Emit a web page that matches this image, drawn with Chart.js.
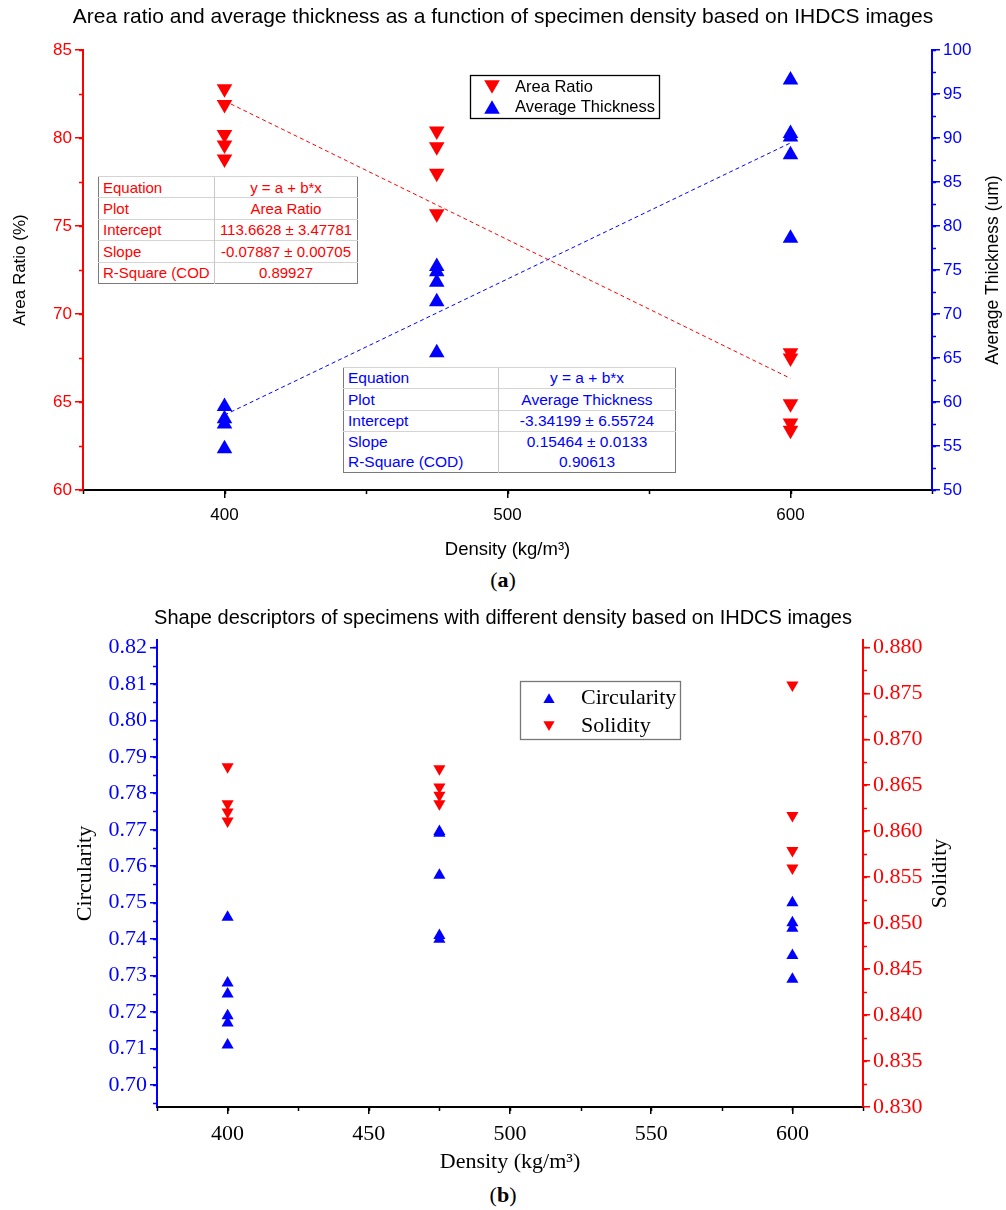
<!DOCTYPE html>
<html>
<head>
<meta charset="utf-8">
<script src="https://cdn.jsdelivr.net/npm/chart.js@4.4.1/dist/chart.umd.min.js"></script>
<style>
  body { margin: 0; background: #fff; width: 1006px; height: 1210px; position: relative; overflow: hidden; }
  canvas { position: absolute; left: 0; }
  #chartA { top: 0; }
  #chartB { top: 595px; }
  .tag { position: absolute; left: 0; width: 1006px; text-align: center; font: 22px "Liberation Serif"; line-height: 26px; }
  .fit { position: absolute; border-collapse: collapse; font-family: "Liberation Sans"; border: 1.5px solid #7a7a7a; background: #fff; table-layout: fixed; }
  .fit td { border-top: 1px solid #d4d4d4; padding: 0 4px; white-space: nowrap; overflow: hidden; line-height: 1; }
  .fit td + td { text-align: center; border-left: 1px solid #c8c8c8; }
  .fit tr.nl td { border-top: none; }
  #fitA { left: 98px; top: 176px; width: 260px; height: 108px; color: #f00; font-size: 15px; }
  #fitB { left: 343px; top: 367px; width: 333px; height: 106px; color: #00f; font-size: 15.5px; }
</style>
</head>
<body>
<canvas id="chartA" width="1006" height="565"></canvas>
<canvas id="chartB" width="1006" height="585"></canvas>

<div class="tag" style="top:567px">(<b>a</b>)</div>
<div class="tag" style="top:1182px">(<b>b</b>)</div>

<table class="fit" id="fitA">
  <colgroup><col style="width:116px"><col></colgroup>
  <tr><td>Equation</td><td>y = a + b*x</td></tr>
  <tr><td>Plot</td><td>Area Ratio</td></tr>
  <tr><td>Intercept</td><td>113.6628 ± 3.47781</td></tr>
  <tr><td>Slope</td><td>-0.07887 ± 0.00705</td></tr>
  <tr><td>R-Square (COD</td><td>0.89927</td></tr>
</table>

<table class="fit" id="fitB">
  <colgroup><col style="width:155px"><col></colgroup>
  <tr><td>Equation</td><td>y = a + b*x</td></tr>
  <tr><td>Plot</td><td>Average Thickness</td></tr>
  <tr><td>Intercept</td><td>-3.34199 ± 6.55724</td></tr>
  <tr><td>Slope</td><td>0.15464 ± 0.0133</td></tr>
  <tr class="nl"><td>R-Square (COD)</td><td>0.90613</td></tr>
</table>

<script>
// ---- panel (a) data ----
const areaX = [400, 400, 400, 400, 400, 475, 475, 475, 475, 600, 600, 600, 600, 600];
const areaRatio = [82.8, 81.9, 80.2, 79.6, 78.8, 80.4, 79.5, 78.0, 75.7, 67.8, 67.5, 64.9, 63.8, 63.4];
const thickX = [400, 400, 400, 400, 475, 475, 475, 475, 475, 600, 600, 600, 600, 600];
const thickness = [59.5, 58.1, 57.5, 54.7, 75.4, 74.8, 73.6, 71.4, 65.6, 96.6, 90.5, 90.1, 88.1, 78.6];
// linear fit end points
const fitX = [400, 600];
const areaFit = [82.11, 66.34];
const thickFit = [58.52, 89.44];
const xTicksA = [400, 500, 600];
const areaTicks = [60, 65, 70, 75, 80, 85];
const thickTicks = [50, 55, 60, 65, 70, 75, 80, 85, 90, 95, 100];

// ---- panel (b) data ----
const circX = [400, 400, 400, 400, 400, 400, 475, 475, 475, 475, 475, 600, 600, 600, 600, 600];
const circularity = [0.746, 0.728, 0.725, 0.719, 0.717, 0.711, 0.7695, 0.769, 0.7575, 0.741, 0.740, 0.750, 0.7445, 0.743, 0.7355, 0.729];
const solX = [400, 400, 400, 400, 475, 475, 475, 475, 600, 600, 600, 600];
const solidity = [0.8670, 0.8630, 0.8621, 0.8611, 0.8668, 0.8648, 0.8639, 0.8630, 0.8759, 0.8617, 0.8579, 0.8560];
const xTicksB = [400, 450, 500, 550, 600];
const circTicks = [0.70, 0.71, 0.72, 0.73, 0.74, 0.75, 0.76, 0.77, 0.78, 0.79, 0.80, 0.81, 0.82];
const solTicks = [0.830, 0.835, 0.840, 0.845, 0.850, 0.855, 0.860, 0.865, 0.870, 0.875, 0.880];

const RED = '#ff0000';
const BLUE = '#0000ff';
const SANS = '"Liberation Sans", Arial, sans-serif';
const SERIF = '"Liberation Serif", "Times New Roman", serif';

const pts = (xs, ys) => xs.map((x, i) => ({ x: x, y: ys[i] }));
const fixTicks = arr => s => { s.ticks = arr.map(v => ({ value: v })); };

// short ticks between the labelled ones
const minorTicks = {
  id: 'minorTicks',
  afterDraw(chart, args, opts) {
    const ctx = chart.ctx;
    (opts.list || []).forEach(m => {
      const s = chart.scales[m.axis];
      ctx.save();
      ctx.strokeStyle = m.color;
      ctx.lineWidth = 1.5;
      const n = Math.round((s.max - m.from) / m.step);
      for (let i = 0; i <= n; i++) {
        const v = m.from + i * m.step;
        if (v < s.min - 1e-9 || v > s.max + 1e-9) continue;
        const p = Math.round(s.getPixelForValue(v)) + 0.5;
        ctx.beginPath();
        if (s.isHorizontal()) { ctx.moveTo(p, s.top); ctx.lineTo(p, s.top + m.len); }
        else if (s.position === 'left') { ctx.moveTo(s.right, p); ctx.lineTo(s.right - m.len, p); }
        else { ctx.moveTo(s.left, p); ctx.lineTo(s.left + m.len, p); }
        ctx.stroke();
      }
      ctx.restore();
    });
  }
};

// right axis title, read bottom to top
const sideTitle = {
  id: 'sideTitle',
  afterDraw(chart, args, o) {
    if (!o.text) return;
    const ctx = chart.ctx, a = chart.chartArea;
    ctx.save();
    ctx.translate(o.x, (a.top + a.bottom) / 2);
    ctx.rotate(-Math.PI / 2);
    ctx.font = o.font;
    ctx.fillStyle = '#000';
    ctx.textAlign = 'center';
    ctx.textBaseline = 'middle';
    ctx.fillText(o.text, 0, 0);
    ctx.restore();
  }
};

// framed legend inside the plot
const boxLegend = {
  id: 'boxLegend',
  afterDraw(chart, args, o) {
    if (!o.items) return;
    const ctx = chart.ctx;
    ctx.save();
    ctx.strokeStyle = o.border;
    ctx.lineWidth = 1.3;
    ctx.strokeRect(o.x + 0.5, o.y + 0.5, o.w, o.h);
    ctx.font = o.font;
    ctx.textBaseline = 'middle';
    o.items.forEach((idx, i) => {
      const ds = chart.data.datasets[idx];
      const cy = o.y + o.rowTop + i * o.rowH;
      ctx.fillStyle = ds.backgroundColor;
      ctx.strokeStyle = ds.backgroundColor;
      Chart.helpers.drawPoint(ctx, { pointStyle: 'triangle', radius: o.r, rotation: ds.pointRotation || 0, borderWidth: 0 }, o.x + o.markX, cy + (ds.pointRotation ? -o.r / 4 : o.r / 4));
      ctx.fillStyle = '#000';
      ctx.fillText(ds.label, o.x + o.textX, cy);
    });
    ctx.restore();
  }
};

function tickGrid(color) {
  return { display: true, drawOnChartArea: false, drawTicks: true, tickLength: 8, color: color, lineWidth: 1.5 };
}

// ---------------- panel (a) ----------------
new Chart(document.getElementById('chartA'), {
  type: 'scatter',
  data: {
    datasets: [
      { label: 'Area Ratio', data: pts(areaX, areaRatio), yAxisID: 'yL', pointStyle: 'triangle', pointRotation: 180,
        pointRadius: 9, backgroundColor: RED, borderColor: RED, borderWidth: 0 },
      { label: 'Average Thickness', data: pts(thickX, thickness), yAxisID: 'yR', pointStyle: 'triangle',
        pointRadius: 9, backgroundColor: BLUE, borderColor: BLUE, borderWidth: 0 },
      { type: 'line', label: 'Area fit', data: pts(fitX, areaFit), yAxisID: 'yL', borderColor: RED,
        borderWidth: 1, borderDash: [4, 3], pointRadius: 0, fill: false },
      { type: 'line', label: 'Thickness fit', data: pts(fitX, thickFit), yAxisID: 'yR', borderColor: BLUE,
        borderWidth: 1, borderDash: [4, 3], pointRadius: 0, fill: false }
    ]
  },
  options: {
    responsive: false,
    animation: false,
    layout: { padding: 0 },
    scales: {
      x: {
        type: 'linear', min: 350, max: 650,
        afterBuildTicks: fixTicks(xTicksA),
        afterFit: s => { s.height = 75; },
        grid: tickGrid('#000'),
        border: { color: '#000', width: 2 },
        ticks: { color: '#000', font: { family: SANS, size: 17 }, padding: 7 },
        title: { display: true, text: 'Density (kg/m³)', color: '#000', font: { family: SANS, size: 18.5 }, padding: { top: 0, bottom: 4 } }
      },
      yL: {
        position: 'left', min: 60, max: 85,
        afterBuildTicks: fixTicks(areaTicks),
        afterFit: s => { s.width = 83; },
        grid: tickGrid(RED),
        border: { color: RED, width: 2 },
        ticks: { color: RED, font: { family: SANS, size: 17 }, padding: 3 },
        title: { display: true, text: 'Area Ratio (%)', color: '#000', font: { family: SANS, size: 17 }, padding: { top: 10, bottom: 0 } }
      },
      yR: {
        position: 'right', min: 50, max: 100,
        afterBuildTicks: fixTicks(thickTicks),
        afterFit: s => { s.width = 74; },
        grid: tickGrid(BLUE),
        border: { color: BLUE, width: 2 },
        ticks: { color: BLUE, font: { family: SANS, size: 17 }, padding: 3 }
      }
    },
    plugins: {
      legend: { display: false },
      tooltip: { enabled: false },
      title: {
        display: true, color: '#000',
        text: 'Area ratio and average thickness as a function of specimen density based on IHDCS images',
        font: { family: SANS, size: 21, weight: 'normal' },
        padding: { top: 5, bottom: 19.8 }
      },
      sideTitle: { text: 'Average Thickness (um)', x: 993, font: '17.5px ' + SANS },
      minorTicks: { list: [
        { axis: 'x', from: 350, step: 50, len: 4, color: '#000' },
        { axis: 'yL', from: 60, step: 2.5, len: 4, color: RED },
        { axis: 'yR', from: 50, step: 2.5, len: 4, color: BLUE }
      ] },
      boxLegend: { x: 470, y: 75, w: 189, h: 43, rowTop: 12, rowH: 20, r: 9, markX: 22, textX: 45,
        border: '#000', font: '16.5px ' + SANS, items: [0, 1] }
    }
  },
  plugins: [minorTicks, sideTitle, boxLegend]
});

// ---------------- panel (b) ----------------
new Chart(document.getElementById('chartB'), {
  type: 'scatter',
  data: {
    datasets: [
      { label: 'Circularity', data: pts(circX, circularity), yAxisID: 'yL', pointStyle: 'triangle',
        pointRadius: 7, backgroundColor: BLUE, borderColor: BLUE, borderWidth: 0 },
      { label: 'Solidity', data: pts(solX, solidity), yAxisID: 'yR', pointStyle: 'triangle', pointRotation: 180,
        pointRadius: 7, backgroundColor: RED, borderColor: RED, borderWidth: 0 }
    ]
  },
  options: {
    responsive: false,
    animation: false,
    layout: { padding: 0 },
    scales: {
      x: {
        type: 'linear', min: 375, max: 625,
        afterBuildTicks: fixTicks(xTicksB),
        afterFit: s => { s.height = 73; },
        grid: Object.assign(tickGrid('#000'), { tickLength: 7 }),
        border: { color: '#000', width: 2 },
        ticks: { color: '#000', font: { family: SERIF, size: 22 }, padding: 7 },
        title: { display: true, text: 'Density (kg/m³)', color: '#000', font: { family: SERIF, size: 22 }, padding: { top: 0, bottom: 5 } }
      },
      yL: {
        position: 'left', min: 0.694, max: 0.822,
        afterBuildTicks: fixTicks(circTicks),
        afterFit: s => { s.width = 157; },
        grid: Object.assign(tickGrid(BLUE), { tickLength: 7 }),
        border: { color: BLUE, width: 2 },
        ticks: { color: BLUE, font: { family: SERIF, size: 22 }, padding: 3, callback: v => v.toFixed(2) },
        title: { display: true, text: 'Circularity', color: '#000', font: { family: SERIF, size: 22 }, padding: { top: 72, bottom: 0 } }
      },
      yR: {
        position: 'right', min: 0.83, max: 0.8808,
        afterBuildTicks: fixTicks(solTicks),
        afterFit: s => { s.width = 143; },
        grid: Object.assign(tickGrid(RED), { tickLength: 7 }),
        border: { color: RED, width: 2 },
        ticks: { color: RED, font: { family: SERIF, size: 22 }, padding: 3, callback: v => v.toFixed(3) }
      }
    },
    plugins: {
      legend: { display: false },
      tooltip: { enabled: false },
      title: {
        display: true, color: '#000',
        text: 'Shape descriptors of specimens with different density based on IHDCS images',
        font: { family: SANS, size: 20, weight: 'normal' },
        padding: { top: 11, bottom: 10 }
      },
      sideTitle: { text: 'Solidity', x: 940, font: '22px ' + SERIF },
      minorTicks: { list: [
        { axis: 'x', from: 375, step: 25, len: 4, color: '#000' },
        { axis: 'yL', from: 0.695, step: 0.005, len: 4, color: BLUE },
        { axis: 'yR', from: 0.8325, step: 0.0025, len: 4, color: RED }
      ] },
      boxLegend: { x: 520, y: 86, w: 160, h: 58, rowTop: 17, rowH: 28, r: 6.5, markX: 29, textX: 61,
        border: '#777', font: '22px ' + SERIF, items: [0, 1] }
    }
  },
  plugins: [minorTicks, sideTitle, boxLegend]
});
</script>
</body>
</html>
